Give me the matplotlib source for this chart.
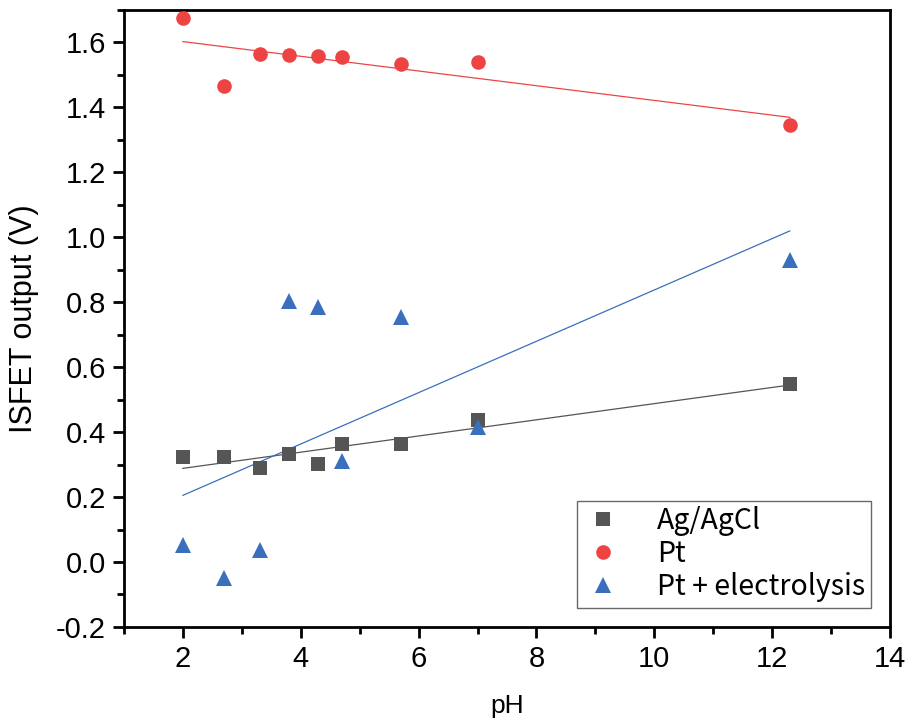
import matplotlib
matplotlib.use("Agg")
import matplotlib.pyplot as plt
import numpy as np
from matplotlib.ticker import MultipleLocator, FuncFormatter

plt.rcParams["font.family"] = ["Liberation Sans", "DejaVu Sans"]

# pH values shared by all series
ph = [2.0, 2.7, 3.3, 3.8, 4.3, 4.7, 5.7, 7.0, 12.3]

# ISFET output (V)
ag_agcl = [0.324, 0.324, 0.290, 0.333, 0.302, 0.364, 0.364, 0.438, 0.549]
pt = [1.674, 1.467, 1.563, 1.560, 1.557, 1.554, 1.532, 1.541, 1.344]
pt_electrolysis = [0.052, -0.048, 0.037, 0.805, 0.786, 0.311, 0.755, 0.416, 0.931]

series = [
    ("Ag/AgCl", ag_agcl, "s", "#555555", 10.5),
    ("Pt", pt, "o", "#EE4343", 10.5),
    ("Pt + electrolysis", pt_electrolysis, "^", "#3A6FBE", 12),
]

fig = plt.figure(figsize=(9.09, 7.26), dpi=100)
ax = fig.add_axes([0.1364, 0.1364, 0.8427, 0.85])

x = np.array(ph)
for label, vals, marker, colour, ms in series:
    y = np.array(vals)
    ax.plot(x, y, linestyle="none", marker=marker, color=colour,
            markersize=ms, markeredgewidth=0, label=label, zorder=3)
    # linear fit line, drawn over the data range
    slope, icpt = np.polyfit(x, y, 1)
    xf = np.array([x.min(), x.max()])
    ax.plot(xf, slope * xf + icpt, color=colour, linewidth=0.9, zorder=2)

ax.set_xlim(1, 14)
ax.set_ylim(-0.2, 1.7)
ax.xaxis.set_major_locator(MultipleLocator(2))
ax.xaxis.set_minor_locator(MultipleLocator(1))
ax.yaxis.set_major_locator(MultipleLocator(0.2))
ax.yaxis.set_minor_locator(MultipleLocator(0.1))
ax.yaxis.set_major_formatter(FuncFormatter(lambda v, p: f"{v:.1f}"))

for sp in ax.spines.values():
    sp.set_linewidth(2)
ax.tick_params(which="major", direction="out", length=8, width=2,
               labelsize=21, pad=5)
ax.tick_params(which="minor", direction="out", length=5, width=2)

ax.set_xlabel("pH", fontsize=19, labelpad=15)
ax.set_ylabel("ISFET output (V)", fontsize=22, labelpad=12)

leg = ax.legend(loc="lower right", bbox_to_anchor=(0.975, 0.031),
                prop={"family": ["Noto Sans CJK JP", "DejaVu Sans"], "size": 20.5},
                frameon=True, fancybox=False, edgecolor="#444444",
                handlelength=1.4, handletextpad=1.2, labelspacing=0.1,
                borderpad=0.2, borderaxespad=0.0)
leg.get_frame().set_linewidth(1.0)

fig.savefig("out.png", dpi=100)
